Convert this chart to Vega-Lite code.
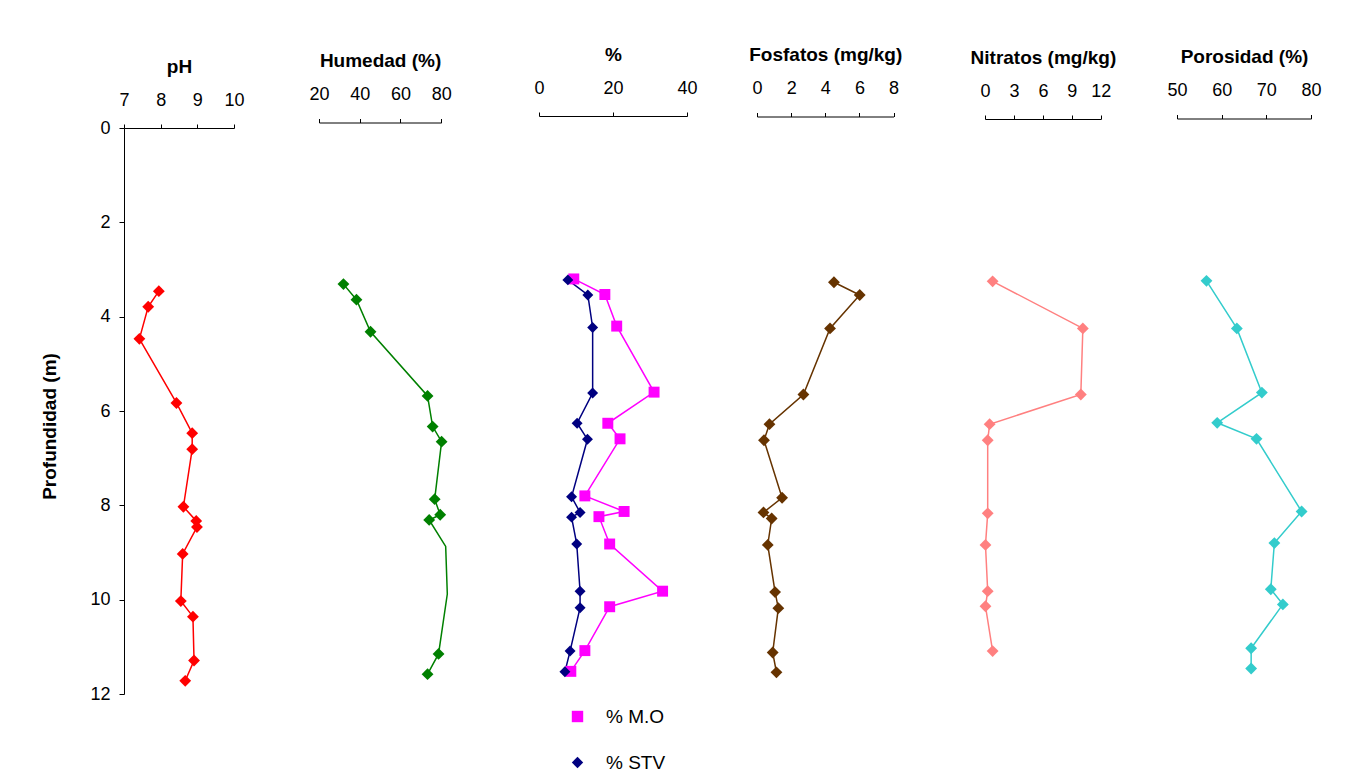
{
  "$schema": "https://vega.github.io/schema/vega-lite/v6.json",
  "background": "white",
  "padding": {"left": 40, "top": 45, "right": 10, "bottom": 10},
  "datasets": {
    "ph": [
      {"profundidad": 3.46, "ph": 7.95}, {"profundidad": 3.79, "ph": 7.66}, {"profundidad": 4.47, "ph": 7.42},
      {"profundidad": 5.83, "ph": 8.43}, {"profundidad": 6.47, "ph": 8.86}, {"profundidad": 6.81, "ph": 8.86},
      {"profundidad": 8.03, "ph": 8.62}, {"profundidad": 8.33, "ph": 8.97}, {"profundidad": 8.46, "ph": 8.99},
      {"profundidad": 9.03, "ph": 8.60}, {"profundidad": 10.03, "ph": 8.55}, {"profundidad": 10.36, "ph": 8.88},
      {"profundidad": 11.29, "ph": 8.91}, {"profundidad": 11.72, "ph": 8.67}
    ],
    "humedad": [
      {"profundidad": 3.31, "humedad": 32.0, "muestra": "si"}, {"profundidad": 3.64, "humedad": 38.4, "muestra": "si"},
      {"profundidad": 4.32, "humedad": 45.3, "muestra": "si"}, {"profundidad": 5.68, "humedad": 73.3, "muestra": "si"},
      {"profundidad": 6.33, "humedad": 75.8, "muestra": "si"}, {"profundidad": 6.65, "humedad": 80.2, "muestra": "si"},
      {"profundidad": 7.87, "humedad": 76.8, "muestra": "si"}, {"profundidad": 8.20, "humedad": 79.5, "muestra": "si"},
      {"profundidad": 8.31, "humedad": 74.1, "muestra": "si"}, {"profundidad": 8.87, "humedad": 82.2, "muestra": "no"},
      {"profundidad": 9.88, "humedad": 83.0, "muestra": "no"}, {"profundidad": 11.15, "humedad": 78.7, "muestra": "si"},
      {"profundidad": 11.58, "humedad": 73.3, "muestra": "si"}
    ],
    "porcentaje": [
      {"serie": "% M.O", "profundidad": 3.20, "valor": 9.4}, {"serie": "% M.O", "profundidad": 3.53, "valor": 17.8},
      {"serie": "% M.O", "profundidad": 4.20, "valor": 21.0}, {"serie": "% M.O", "profundidad": 5.60, "valor": 31.1},
      {"serie": "% M.O", "profundidad": 6.26, "valor": 18.6}, {"serie": "% M.O", "profundidad": 6.59, "valor": 21.9},
      {"serie": "% M.O", "profundidad": 7.80, "valor": 12.4}, {"serie": "% M.O", "profundidad": 8.13, "valor": 23.0},
      {"serie": "% M.O", "profundidad": 8.24, "valor": 16.2}, {"serie": "% M.O", "profundidad": 8.82, "valor": 19.1},
      {"serie": "% M.O", "profundidad": 9.82, "valor": 33.4}, {"serie": "% M.O", "profundidad": 10.15, "valor": 19.1},
      {"serie": "% M.O", "profundidad": 11.08, "valor": 12.4}, {"serie": "% M.O", "profundidad": 11.52, "valor": 8.6},
      {"serie": "% STV", "profundidad": 3.22, "valor": 7.8}, {"serie": "% STV", "profundidad": 3.54, "valor": 13.2},
      {"serie": "% STV", "profundidad": 4.23, "valor": 14.5}, {"serie": "% STV", "profundidad": 5.62, "valor": 14.5},
      {"serie": "% STV", "profundidad": 6.26, "valor": 10.3}, {"serie": "% STV", "profundidad": 6.60, "valor": 13.1},
      {"serie": "% STV", "profundidad": 7.82, "valor": 8.8}, {"serie": "% STV", "profundidad": 8.15, "valor": 11.1},
      {"serie": "% STV", "profundidad": 8.25, "valor": 8.8}, {"serie": "% STV", "profundidad": 8.82, "valor": 10.2},
      {"serie": "% STV", "profundidad": 9.82, "valor": 11.1}, {"serie": "% STV", "profundidad": 10.17, "valor": 11.1},
      {"serie": "% STV", "profundidad": 11.09, "valor": 8.4}, {"serie": "% STV", "profundidad": 11.53, "valor": 7.0}
    ],
    "fosfatos": [
      {"profundidad": 3.27, "fosfatos": 4.51}, {"profundidad": 3.54, "fosfatos": 6.02}, {"profundidad": 4.25, "fosfatos": 4.28},
      {"profundidad": 5.65, "fosfatos": 2.72}, {"profundidad": 6.28, "fosfatos": 0.73}, {"profundidad": 6.62, "fosfatos": 0.41},
      {"profundidad": 7.84, "fosfatos": 1.47}, {"profundidad": 8.15, "fosfatos": 0.38}, {"profundidad": 8.28, "fosfatos": 0.86},
      {"profundidad": 8.84, "fosfatos": 0.63}, {"profundidad": 9.84, "fosfatos": 1.06}, {"profundidad": 10.18, "fosfatos": 1.25},
      {"profundidad": 11.12, "fosfatos": 0.92}, {"profundidad": 11.54, "fosfatos": 1.14}
    ],
    "nitratos": [
      {"profundidad": 3.25, "nitratos": 0.79}, {"profundidad": 4.25, "nitratos": 10.14}, {"profundidad": 5.65, "nitratos": 9.93},
      {"profundidad": 6.28, "nitratos": 0.48}, {"profundidad": 6.62, "nitratos": 0.28}, {"profundidad": 8.17, "nitratos": 0.28},
      {"profundidad": 8.84, "nitratos": 0.05}, {"profundidad": 9.82, "nitratos": 0.28}, {"profundidad": 10.14, "nitratos": 0.05},
      {"profundidad": 11.09, "nitratos": 0.79}
    ],
    "porosidad": [
      {"profundidad": 3.24, "porosidad": 56.6}, {"profundidad": 4.25, "porosidad": 63.4}, {"profundidad": 5.61, "porosidad": 69.0},
      {"profundidad": 6.25, "porosidad": 59.0}, {"profundidad": 6.59, "porosidad": 67.8}, {"profundidad": 8.13, "porosidad": 77.9},
      {"profundidad": 8.80, "porosidad": 71.8}, {"profundidad": 9.78, "porosidad": 71.0}, {"profundidad": 10.10, "porosidad": 73.7},
      {"profundidad": 11.03, "porosidad": 66.6}, {"profundidad": 11.46, "porosidad": 66.6}
    ]
  },
  "spacing": 0,
  "bounds": "flush",
  "resolve": {
    "scale": {"color": "independent", "shape": "independent"},
    "legend": {"color": "independent", "shape": "independent"}
  },
  "hconcat": [
    {
      "width": 195, "height": 566,
      "data": {"name": "ph"},
      "encoding": {
        "x": {"field": "ph", "type": "quantitative", "scale": {"domain": [7, 10], "range": [0, 110], "nice": false, "zero": false},
              "axis": {"orient": "top", "title": "pH", "values": [7, 8, 9, 10], "offset": 0}},
        "y": {"field": "profundidad", "type": "quantitative", "scale": {"domain": [0, 12], "reverse": true, "nice": false},
              "axis": {"title": "Profundidad (m)", "values": [0, 2, 4, 6, 8, 10, 12], "tickSize": 5, "labelPadding": 9, "titlePadding": 30, "titleFontSize": 19, "titleY": 298}},
        "order": {"field": "profundidad", "type": "quantitative"}
      },
      "layer": [
        {"mark": {"type": "line", "color": "#FF0000", "strokeWidth": 1.5}},
        {"mark": {"type": "point", "shape": "diamond", "filled": true, "size": 140, "color": "#FF0000", "opacity": 1}}
      ]
    },
    {
      "width": 220, "height": 566,
      "data": {"name": "humedad"},
      "encoding": {
        "x": {"field": "humedad", "type": "quantitative", "scale": {"domain": [20, 80], "range": [0, 122.2], "nice": false, "zero": false},
              "axis": {"orient": "top", "title": "Humedad (%)", "values": [20, 40, 60, 80], "offset": 5.5}},
        "y": {"field": "profundidad", "type": "quantitative", "scale": {"domain": [0, 12], "reverse": true, "nice": false}, "axis": null},
        "order": {"field": "profundidad", "type": "quantitative"}
      },
      "layer": [
        {"mark": {"type": "line", "color": "#008000", "strokeWidth": 1.5}},
        {"transform": [{"filter": "datum.muestra == 'si'"}],
         "mark": {"type": "point", "shape": "diamond", "filled": true, "size": 140, "color": "#008000", "opacity": 1}}
      ]
    },
    {
      "width": 218, "height": 566,
      "data": {"name": "porcentaje"},
      "encoding": {
        "x": {"field": "valor", "type": "quantitative", "scale": {"domain": [0, 40], "range": [0, 148], "nice": false},
              "axis": {"orient": "top", "title": "%", "values": [0, 20, 40], "offset": 12}},
        "y": {"field": "profundidad", "type": "quantitative", "scale": {"domain": [0, 12], "reverse": true, "nice": false}, "axis": null},
        "order": {"field": "profundidad", "type": "quantitative"}
      },
      "layer": [
        {"transform": [{"filter": "datum.serie == '% M.O'"}],
         "mark": {"type": "line", "strokeWidth": 1.5, "color": "#FF00FF"}},
        {"transform": [{"filter": "datum.serie == '% STV'"}],
         "mark": {"type": "line", "strokeWidth": 1.5, "color": "#000080"}},
        {"mark": {"type": "point", "filled": true, "size": 120, "opacity": 1},
         "encoding": {
           "color": {"field": "serie", "type": "nominal", "scale": {"domain": ["% M.O", "% STV"], "range": ["#FF00FF", "#000080"]},
                     "legend": {"title": null, "orient": "none", "legendX": 29, "legendY": 579, "direction": "vertical", "padding": 0,
                                "symbolSize": 130, "labelFontSize": 19, "labelFont": "Liberation Sans", "labelColor": "#000",
                                "rowPadding": 26, "labelOffset": 19}},
           "shape": {"field": "serie", "type": "nominal", "scale": {"domain": ["% M.O", "% STV"], "range": ["square", "diamond"]},
                     "legend": {"title": null, "orient": "none", "legendX": 29, "legendY": 579, "direction": "vertical", "padding": 0,
                                "symbolSize": 130, "labelFontSize": 19, "labelFont": "Liberation Sans", "labelColor": "#000",
                                "rowPadding": 26, "labelOffset": 19}}
         }}
      ]
    },
    {
      "width": 228, "height": 566,
      "data": {"name": "fosfatos"},
      "encoding": {
        "x": {"field": "fosfatos", "type": "quantitative", "scale": {"domain": [0, 8], "range": [0, 136.5], "nice": false},
              "axis": {"orient": "top", "title": "Fosfatos (mg/kg)", "values": [0, 2, 4, 6, 8], "offset": 11.5}},
        "y": {"field": "profundidad", "type": "quantitative", "scale": {"domain": [0, 12], "reverse": true, "nice": false}, "axis": null},
        "order": {"field": "profundidad", "type": "quantitative"}
      },
      "layer": [
        {"mark": {"type": "line", "color": "#663300", "strokeWidth": 1.5}},
        {"mark": {"type": "point", "shape": "diamond", "filled": true, "size": 140, "color": "#663300", "opacity": 1}}
      ]
    },
    {
      "width": 192, "height": 566,
      "data": {"name": "nitratos"},
      "encoding": {
        "x": {"field": "nitratos", "type": "quantitative", "scale": {"domain": [0, 12], "range": [0, 115.8], "nice": false},
              "axis": {"orient": "top", "title": "Nitratos (mg/kg)", "values": [0, 3, 6, 9, 12], "offset": 9}},
        "y": {"field": "profundidad", "type": "quantitative", "scale": {"domain": [0, 12], "reverse": true, "nice": false}, "axis": null},
        "order": {"field": "profundidad", "type": "quantitative"}
      },
      "layer": [
        {"mark": {"type": "line", "color": "#FF8080", "strokeWidth": 1.5}},
        {"mark": {"type": "point", "shape": "diamond", "filled": true, "size": 140, "color": "#FF8080", "opacity": 1}}
      ]
    },
    {
      "width": 140, "height": 566,
      "data": {"name": "porosidad"},
      "encoding": {
        "x": {"field": "porosidad", "type": "quantitative", "scale": {"domain": [50, 80], "range": [0, 134], "nice": false, "zero": false},
              "axis": {"orient": "top", "title": "Porosidad (%)", "values": [50, 60, 70, 80], "offset": 9.5}},
        "y": {"field": "profundidad", "type": "quantitative", "scale": {"domain": [0, 12], "reverse": true, "nice": false}, "axis": null},
        "order": {"field": "profundidad", "type": "quantitative"}
      },
      "layer": [
        {"mark": {"type": "line", "color": "#33CCCC", "strokeWidth": 1.5}},
        {"mark": {"type": "point", "shape": "diamond", "filled": true, "size": 140, "color": "#33CCCC", "opacity": 1}}
      ]
    }
  ],
  "config": {
    "font": "Liberation Sans",
    "view": {"stroke": null},
    "axis": {
      "labelFont": "Liberation Sans", "labelFontSize": 18, "labelColor": "#000",
      "titleFont": "Liberation Sans", "titleFontSize": 19, "titleFontWeight": "bold", "titleColor": "#000",
      "domainColor": "#000", "tickColor": "#000", "grid": false,
      "tickSize": 4, "labelPadding": 15, "titlePadding": 15, "labelFlush": false, "labelOverlap": false
    }
  }
}
